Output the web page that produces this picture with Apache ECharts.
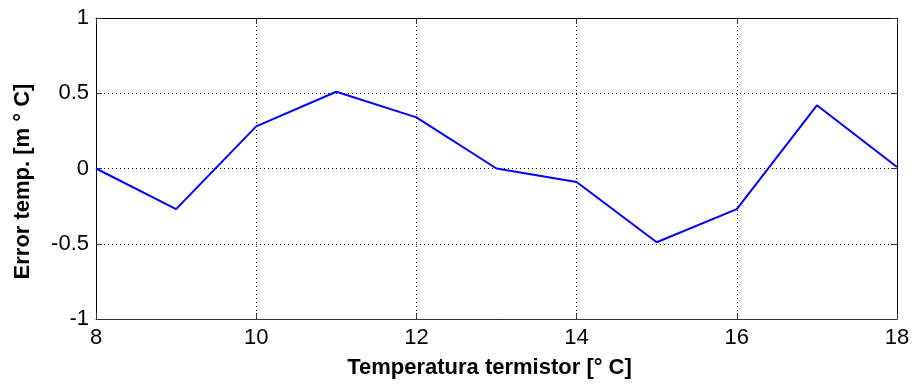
<!DOCTYPE html>
<html>
<head>
<meta charset="utf-8">
<script src="https://cdn.jsdelivr.net/npm/echarts@6/dist/echarts.min.js"></script>
<style>
  html, body { margin: 0; padding: 0; background: #fff; }
</style>
</head>
<body>
<div id="myChart" style="width: 914px; height: 387px;"></div>
<script>
// temperatura del termistor [°C] y error [m°C]
var tempTermistor = [8, 9, 10, 11, 12, 13, 14, 15, 16, 17, 18];
var errorTemp = [0, -0.27, 0.28, 0.51, 0.34, 0, -0.09, -0.49, -0.27, 0.42, 0.01];

var xTicks = [8, 10, 12, 14, 16, 18];
var yTicks = [-1, -0.5, 0, 0.5, 1];

var font = "Liberation Sans, Arial, sans-serif";

var myChart = echarts.init(document.getElementById("myChart"));

var points = tempTermistor.map(function (t, i) { return [t, errorTemp[i]]; });

var gridLine = { show: true, lineStyle: { color: "#000", type: [1, 3], width: 1 } };
var tick = { show: true, inside: true, length: 6, lineStyle: { color: "#333" } };

myChart.setOption({
  animation: false,
  grid: { left: 96, right: 17, top: 18, bottom: 68 },
  xAxis: [
    {
      type: "value",
      min: xTicks[0],
      max: xTicks[xTicks.length - 1],
      interval: 2,
      position: "bottom",
      name: "Temperatura termistor [° C]",
      nameLocation: "middle",
      nameGap: 38,
      nameTextStyle: { fontFamily: font, fontSize: 22, fontWeight: "bold", color: "#000", padding: [0, 14, 0, 0] },
      axisLine: { onZero: false, lineStyle: { color: "#333", width: 1 } },
      axisTick: tick,
      axisLabel: { fontFamily: font, fontSize: 22, color: "#000", margin: 8 },
      splitLine: gridLine
    },
    {
      type: "value",
      min: xTicks[0],
      max: xTicks[xTicks.length - 1],
      interval: 2,
      position: "top",
      axisLine: { onZero: false, lineStyle: { color: "#000", width: 1 } },
      axisTick: tick,
      axisLabel: { show: false },
      splitLine: { show: false }
    }
  ],
  yAxis: [
    {
      type: "value",
      min: yTicks[0],
      max: yTicks[yTicks.length - 1],
      interval: 0.5,
      position: "left",
      name: "Error temp. [m ° C]",
      nameLocation: "middle",
      nameGap: 62,
      nameTextStyle: { fontFamily: font, fontSize: 22, fontWeight: "bold", color: "#000", padding: [0, 26, 0, 0] },
      axisLine: { show: true, onZero: false, lineStyle: { color: "#000", width: 1 } },
      axisTick: tick,
      axisLabel: { fontFamily: font, fontSize: 22, color: "#000", margin: 7 },
      splitLine: gridLine
    },
    {
      type: "value",
      min: yTicks[0],
      max: yTicks[yTicks.length - 1],
      interval: 0.5,
      position: "right",
      axisLine: { show: true, onZero: false, lineStyle: { color: "#000", width: 1 } },
      axisTick: tick,
      axisLabel: { show: false },
      splitLine: { show: false }
    }
  ],
  series: [
    {
      type: "line",
      data: points,
      showSymbol: false,
      lineStyle: { color: "#0000ff", width: 2 },
      itemStyle: { color: "#0000ff" }
    }
  ]
});
</script>
</body>
</html>
